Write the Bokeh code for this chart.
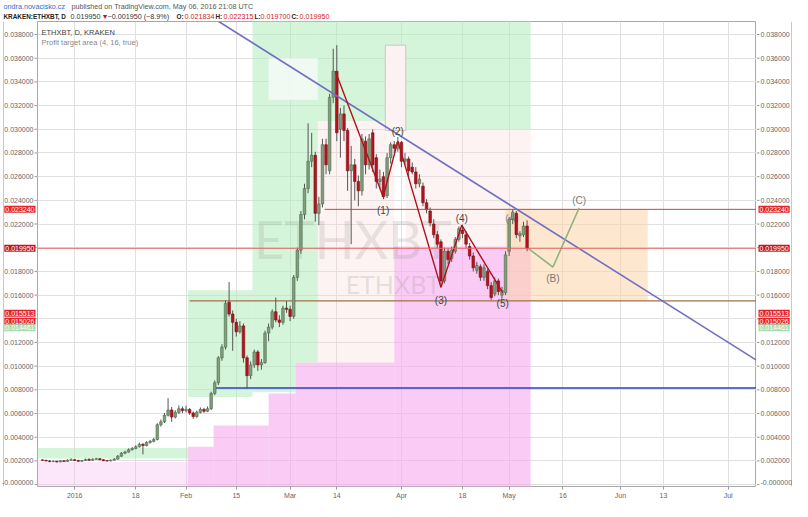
from bokeh.plotting import figure
from bokeh.models import Range1d, FixedTicker, Label, ColumnDataSource, Span, Grid
from bokeh.layouts import column, row
from bokeh.core.properties import value
from bokeh.embed import file_html
from bokeh.resources import INLINE

# ---------------- data ----------------
# day index = days since 2016-01-01 (Dec 23 2015 .. May 6 2016); prices in units of 1e-4 BTC
day = list(range(-9, 127))
open_e4 = [20.8,20.5,20.0,19.5,19.8,19.2,20.1,19.6,20.6,21.0,
           20.4,19.7,20.3,21.2,20.5,21.4,21.8,21.0,20.2,20.0,
           20.6,21.5,24.0,26.5,27.5,29.5,30.5,32.0,34.0,33.0,
           35.5,36.5,38.0,50.5,53.0,58.5,63.0,57.0,61.0,64.0,
           62.5,63.5,60.5,57.5,61.0,63.5,62.0,64.0,77.0,86.0,
           107.0,116.0,154.0,144.0,137.0,129.0,134.0,107.0,92.0,101.0,
           112.0,101.0,103.0,128.0,133.0,146.0,139.0,137.0,149.0,148.0,
           142.0,175.0,198.0,228.0,250.0,273.0,278.0,229.0,237.0,287.0,
           265.0,327.0,349.0,300.0,313.0,299.0,265.0,270.0,256.0,248.0,
           290.0,270.0,297.0,276.0,256.0,260.0,244.0,276.0,287.0,284.0,
           289.0,273.0,275.0,268.0,264.0,254.0,252.0,238.0,231.0,220.0,
           211.0,205.0,172.0,197.0,191.0,197.0,207.0,215.0,211.0,201.0,
           193.0,181.0,184.0,175.0,180.0,168.0,161.0,172.0,160.0,162.0,
           197.0,224.0,229.0,210.0,211.0,218.34]
high_e4 = [21.6,21.0,20.6,20.4,20.1,20.6,20.5,21.4,22.1,21.6,
           20.9,20.8,22.0,22.3,22.2,22.6,22.4,21.5,20.8,21.2,
           22.4,25.0,27.4,28.6,30.6,31.8,33.2,35.4,35.0,36.6,
           37.8,39.5,51.8,55.0,60.5,73.0,65.5,62.8,66.8,66.0,
           66.6,64.6,61.8,62.5,65.2,64.8,66.0,78.5,88.0,108.5,
           118.5,155.5,171.0,147.0,140.0,138.0,136.0,109.0,104.0,114.0,
           113.5,106.0,130.0,136.0,148.0,158.0,143.0,151.0,155.0,151.0,
           177.0,200.0,231.0,254.0,305.0,297.0,281.0,243.0,292.0,292.0,
           330.0,368.0,371.0,318.0,320.0,301.0,286.0,275.0,261.0,296.0,
           294.0,296.0,300.0,279.0,266.0,264.0,280.0,289.0,290.0,293.5,
           290.0,280.0,277.0,272.0,268.0,262.0,255.0,241.0,234.0,224.0,
           214.0,207.0,200.0,199.0,201.0,209.0,218.0,219.5,214.0,204.0,
           196.0,188.0,186.0,186.0,182.0,171.0,175.0,174.0,167.0,197.0,
           226.0,232.4,231.0,214.0,222.0,223.15]
low_e4 = [20.0,19.6,18.9,19.0,18.6,18.9,19.1,19.4,20.2,19.9,
          19.3,19.4,20.0,20.1,20.3,20.9,20.6,19.8,19.5,19.7,
          20.3,21.2,23.5,25.8,26.9,28.7,29.8,31.2,25.5,32.3,
          34.6,35.7,37.4,49.0,52.0,57.5,53.0,55.8,59.5,60.4,
          61.0,58.8,55.5,56.4,60.0,60.6,61.2,63.0,75.5,84.0,
          104.5,114.0,142.0,113.0,125.0,127.5,103.0,81.0,89.0,98.5,
          96.0,97.0,102.0,121.0,131.0,137.0,133.0,135.0,145.0,138.0,
          140.0,172.0,195.0,224.0,246.0,268.0,222.0,219.0,234.0,262.0,
          262.0,322.0,290.0,276.0,290.0,248.0,203.0,240.0,235.0,244.0,
          262.0,266.0,264.0,250.0,250.0,241.0,242.0,271.0,280.0,281.0,
          268.0,270.0,260.0,262.0,250.0,251.0,235.0,229.0,218.0,208.0,
          200.0,166.5,170.0,186.0,188.0,195.0,205.0,208.0,200.0,190.0,
          180.0,178.0,172.0,172.0,165.0,156.0,159.0,160.0,157.0,160.0,
          193.0,220.0,208.0,205.0,209.0,197.0]
close_e4 = [20.5,20.0,19.5,19.8,19.2,20.1,19.6,20.6,21.0,20.4,
            19.7,20.3,21.2,20.5,21.4,21.8,21.0,20.2,20.0,20.6,
            21.5,24.0,26.5,27.5,29.5,30.5,32.0,34.0,33.0,35.5,
            36.5,38.0,50.5,53.0,58.5,63.0,57.0,61.0,64.0,62.5,
            63.5,60.5,57.5,61.0,63.5,62.0,64.0,77.0,86.0,107.0,
            116.0,153.0,144.0,137.0,129.0,134.0,107.0,92.0,101.0,112.0,
            101.0,103.0,128.0,133.0,146.0,139.0,137.0,149.0,148.0,142.0,
            175.0,198.0,228.0,250.0,273.0,278.0,229.0,237.0,287.0,270.0,
            327.0,349.0,297.0,313.0,299.0,265.0,270.0,256.0,248.0,292.0,
            270.0,292.0,270.0,256.0,258.0,243.0,276.0,287.0,284.0,289.0,
            273.0,275.0,265.0,264.0,254.0,258.0,238.0,232.0,221.0,211.0,
            203.0,172.0,197.0,190.0,198.0,207.0,216.0,212.0,203.0,193.0,
            183.0,185.0,175.0,183.0,168.0,158.0,172.0,163.0,164.0,194.0,
            224.0,230.0,211.0,212.0,218.3,199.5]

# Profit target area bands (day from, day to, price low, price high)
green_start = [-10.4, 31.5, 49.5, 61.5, 67.7, 92.2]
green_end = [31.5, 49.5, 61.5, 67.7, 92.2, 127.0]
green_low = [0.0022, 0.0074, 0.0078, 0.0103, 0.0307, 0.0300]
green_high = [0.0031, 0.0164, 0.0400, 0.0400, 0.0400, 0.0400]

pink_start = [31.5, 38.7, 54.0, 61.5, 89.0]
pink_end = [38.7, 54.0, 61.5, 89.0, 127.0]
pink_low = [-0.0010, -0.0010, -0.0010, -0.0010, -0.0010]
pink_high = [0.0032, 0.0050, 0.0077, 0.0103, 0.0201]
pale_pink_start, pale_pink_end, pale_pink_high = -10.4, 31.5, 0.0019

mid_start = [67.7, 92.2]
mid_end = [89.0, 127.0]
mid_low = [0.0103, 0.0201]
mid_high = [0.0307, 0.0300]

gap_start, gap_end, gap_low, gap_high = 54.0, 67.7, 0.0325, 0.0360
tower_start, tower_end, tower_low, tower_high = 86.5, 92.2, 0.0299, 0.0371

# projected target box
target_start, target_end = 120.0, 159.6
target_low, target_high = 0.015513, 0.023240

# horizontal levels
last_close = 0.019950
resist_level, resist_from = 0.023240, 69.6
support_level, support_from = 0.015513, 32.0
blue_level, blue_from = 0.008160, 39.0

# trend line
trend_day = [40.1, 189.9]
trend_val = [0.0391, 0.0105]

# Elliott waves
wave_day = [72.6, 85.9, 90.0, 102.0, 107.8, 119.2]
wave_val = [0.0349, 0.0243, 0.0290, 0.01665, 0.0219, 0.0162]
wave_lbl = ["(1)", "(2)", "(3)", "(4)", "(5)"]
abc_day = [126.3, 133.2, 140.5]
abc_val = [0.01995, 0.01837, 0.02335]
abc_lbl = ["(B)", "(C)"]
a_day, a_val = 121.8, 0.02324

# axes
y_ticks = [0.000, 0.002, 0.004, 0.006, 0.008, 0.010, 0.012, 0.014, 0.016, 0.018,
           0.020, 0.022, 0.024, 0.026, 0.028, 0.030, 0.032, 0.034, 0.036, 0.038]
x_ticks = [0, 17, 31, 45, 60, 73, 91, 108, 121, 136, 152, 164, 182]
x_labels = ["2016", "18", "Feb", "15", "Mar", "14", "Apr", "18", "May", "16", "Jun", "13", "Jul"]

# price marker boxes: value, text
box_val = [0.023240, 0.019950, 0.015513, 0.015026, 0.014461]
box_txt = ["0.023240", "0.019950", "0.015513", "0.015026", "0.014461"]

# ---------------- plot ----------------
FONT = "Liberation Sans"
W_LEFT, W_MAIN, W_RIGHT = 37, 719, 36
H_HEAD, H_MAIN, B_BOT = 21, 480, 14
Y0, Y1 = -0.00016, 0.0391

opens = [v * 1e-4 for v in open_e4]
highs = [v * 1e-4 for v in high_e4]
lows = [v * 1e-4 for v in low_e4]
closes = [v * 1e-4 for v in close_e4]
up = [c >= o for o, c in zip(opens, closes)]
src = ColumnDataSource(dict(
    x=day, o=opens, h=highs, l=lows, c=closes,
    top=[max(o, c) for o, c in zip(opens, closes)],
    bot=[min(o, c) for o, c in zip(opens, closes)],
    fill=["#7f9f7c" if u else "#b3141f" for u in up],
    edge=["#4f6a4c" if u else "#7d0c14" for u in up],
))

yr = Range1d(Y0, Y1)
xr = Range1d(-10.37, 189.9)

p = figure(width=W_MAIN, height=H_MAIN, x_range=xr, y_range=yr, y_axis_type=None,
           output_backend="svg", toolbar_location=None,
           min_border_left=0, min_border_right=0, min_border_top=0, min_border_bottom=B_BOT)
p.outline_line_color = "#a8a8a8"
p.background_fill_color = "white"
p.border_fill_color = "white"

# bands
p.quad(left=[pale_pink_start], right=[pale_pink_end], bottom=[-0.001], top=[pale_pink_high],
       fill_color="#f7b6ef", fill_alpha=0.35, line_color=None)
p.quad(left=pink_start, right=pink_end, bottom=pink_low, top=pink_high,
       fill_color="#f7a8ee", fill_alpha=0.6, line_color=None)
p.quad(left=mid_start, right=mid_end, bottom=mid_low, top=mid_high,
       fill_color="#fbd8d8", fill_alpha=0.3, line_color=None)
p.quad(left=green_start, right=green_end, bottom=green_low, top=green_high,
       fill_color="#b2ecbb", fill_alpha=0.55, line_color=None)
p.quad(left=[gap_start], right=[gap_end], bottom=[gap_low], top=[gap_high],
       fill_color="#f4fbf4", fill_alpha=0.9, line_color=None)
p.quad(left=[tower_start], right=[tower_end], bottom=[tower_low], top=[tower_high],
       fill_color="#fcf2f1", fill_alpha=1.0, line_color="#c8c8c8", line_width=1)
p.quad(left=[target_start], right=[target_end], bottom=[target_low], top=[target_high],
       fill_color="#fcd3a8", fill_alpha=0.55, line_color=None)

# watermark
p.text(x=[77.5], y=[0.0207], text=["ETHXBT"], text_font=value("Lato"),
       text_font_size="52px", text_color="#8c8c8c", text_alpha=0.2,
       text_align="center", text_baseline="middle")
p.text(x=[88.7], y=[0.01690], text=["ETHXBT"], text_font=value("Lato"),
       text_font_size="25px", text_color="#8c8c8c", text_alpha=0.22,
       text_align="center", text_baseline="middle")

# level lines
p.segment(x0=[support_from], y0=[support_level], x1=[189.9], y1=[support_level], line_color="#a0704a", line_width=1.2)
p.segment(x0=[blue_from], y0=[blue_level], x1=[189.9], y1=[blue_level], line_color="#2a3fc0", line_width=1.5)

p.text(x=[a_day], y=[a_val], text=["(A)"], text_font=value(FONT), text_font_size="10px",
       text_color="#888888", text_align="center", text_baseline="middle", y_offset=[9])

# candles
p.segment(x0="x", y0="h", x1="x", y1="l", source=src, line_color="#555555", line_width=1)
p.vbar(x="x", width=0.72, top="top", bottom="bot", source=src, fill_color="fill", line_color="edge", line_width=0.6)

p.segment(x0=[resist_from], y0=[resist_level], x1=[189.9], y1=[resist_level], line_color="#c04848", line_width=1)
p.add_layout(Span(location=last_close, dimension="width", line_color="#e06a6a", line_width=1))

p.line(trend_day, trend_val, line_color="#6f6fc4", line_width=1.6)
p.line(wave_day, wave_val, line_color="#b0101e", line_width=1.4)
p.line(abc_day, abc_val, line_color="#8fb27e", line_width=1.6)

p.text(x=wave_day[1:], y=wave_val[1:], text=wave_lbl, text_font=value(FONT), text_font_size="10px",
       text_color="#444444", text_align="center", text_baseline="middle",
       y_offset=[14, -10, 13, -7, 11])
p.text(x=abc_day[1:], y=abc_val[1:], text=abc_lbl, text_font=value(FONT), text_font_size="10px",
       text_color="#777777", text_align="center", text_baseline="middle",
       y_offset=[11, -8])

p.add_layout(Label(x=-10.37, y=0.0382, x_offset=4, text="ETHXBT, D, KRAKEN", text_font=FONT,
                   text_font_size="7.5px", text_color="#444444", text_baseline="middle"))
p.add_layout(Label(x=-10.37, y=0.0373, x_offset=4, text="Profit target area (4, 16, true)", text_font=FONT,
                   text_font_size="7.5px", text_color="#888888", text_baseline="middle"))

# x axis
xa = p.xaxis[0]
xa.ticker = FixedTicker(ticks=x_ticks)
xa.major_label_overrides = dict(zip(x_ticks, x_labels))
xa.axis_line_color = None
xa.major_tick_line_color = "#9a9a9a"
xa.major_tick_out = 3
xa.major_tick_in = 0
xa.minor_tick_line_color = None
xa.major_label_text_font = FONT
xa.major_label_text_font_size = "7px"
xa.major_label_text_color = "#666666"
xa.major_label_standoff = 2
p.xgrid.ticker = FixedTicker(ticks=x_ticks)
p.xgrid.grid_line_color = "#e0e0e0"
p.add_layout(Grid(dimension=1, ticker=FixedTicker(ticks=y_ticks), grid_line_color="#e0e0e0"))

# price scales (left and right), sharing the main price range
ylab = ["%.6f" % t for t in y_ticks]
ylab[0] = "-0.000000"
ylab[7] = ""
ylab[10] = ""
lab_base = ["bottom"] + ["middle"] * (len(y_ticks) - 1)
box_col = ["#e3232e", "#c41426", "#e3232e", "#e3232e", "#a9dcb0"]
box_shift = [0, 0, -12.5, -14.5, -14.5]


def price_scale(side, width):
    s = figure(width=width, height=H_MAIN, x_range=Range1d(0, width), y_range=yr,
               x_axis_type=None, y_axis_type=None, output_backend="svg", toolbar_location=None,
               min_border_left=0, min_border_right=0, min_border_top=0, min_border_bottom=B_BOT)
    s.outline_line_color = None
    s.grid.visible = False
    s.background_fill_color = "white"
    s.border_fill_color = "white"
    if side == "left":
        tx0, tx1, lx, align, bx, edge = width - 3, width, width - 4, "right", width - 2, 3
    else:
        tx0, tx1, lx, align, bx, edge = 0, 3, 4, "left", 2, width - 1
    s.segment(x0=[edge], y0=[Y0], x1=[edge], y1=[Y1], line_color="#c8c8c8", line_width=1)
    s.segment(x0=[tx0] * len(y_ticks), y0=y_ticks, x1=[tx1] * len(y_ticks), y1=y_ticks,
              line_color="#9a9a9a", line_width=1)
    s.text(x=[lx] * len(y_ticks), y=y_ticks, text=ylab, text_font=value(FONT), text_font_size="7px",
           text_color="#666666", text_align=align, text_baseline=lab_base)
    for v, t, sh, c in zip(box_val, box_txt, box_shift, box_col):
        s.add_layout(Label(x=bx, y=v, y_offset=sh, text=t,
                           text_align=align, text_baseline="middle", text_font=FONT,
                           text_font_size="7px", text_color="white",
                           background_fill_color=c, padding=1))
    return s


left = price_scale("left", W_LEFT)
right = price_scale("right", W_RIGHT)

# header
hdr_x = [3, 71, 3, 70, 101, 107, 176, 184, 215, 223, 254, 260, 291, 299]
hdr_y = [6, 6, 16, 16, 16, 16, 16, 16, 16, 16, 16, 16, 16, 16]
hdr_t = ["ondra.novacisko.cz", "published on TradingView.com, May 06, 2016 21:08 UTC",
         "KRAKEN:ETHXBT, D", "0.019950", "▼", "−0.001950 (−8.9%)",
         "O:", "0.021834", "H:", "0.022315", "L:", "0.019700", "C:", "0.019950"]
hdr_c = ["#2f6fbf", "#555555", "#222222", "#333333", "#d0101e", "#333333",
         "#222222", "#d6222c", "#222222", "#d6222c", "#222222", "#d6222c", "#222222", "#d6222c"]
hdr_s = ["normal", "normal", "bold", "normal", "normal", "normal",
         "bold", "normal", "bold", "normal", "bold", "normal", "bold", "normal"]
hdr_f = ["7.2px", "7.2px", "6.4px", "7.2px", "7.2px", "7.2px",
         "6.4px", "7.2px", "6.4px", "7.2px", "6.4px", "7.2px", "6.4px", "7.2px"]
W_ALL = W_LEFT + W_MAIN + W_RIGHT
head = figure(width=W_ALL, height=H_HEAD, x_range=Range1d(0, W_ALL),
              y_range=Range1d(H_HEAD, 0), x_axis_type=None, y_axis_type=None,
              output_backend="svg", toolbar_location=None,
              min_border_left=0, min_border_right=0, min_border_top=0, min_border_bottom=0)
head.outline_line_color = None
head.grid.visible = False
head.text(x=hdr_x, y=hdr_y, text=hdr_t, text_color=hdr_c, text_font_style=hdr_s,
          text_font=value(FONT), text_font_size=hdr_f, text_baseline="middle")

layout = column(head, row(left, p, right, spacing=0), spacing=0)
open("out.html", "w").write(file_html(layout, INLINE))
